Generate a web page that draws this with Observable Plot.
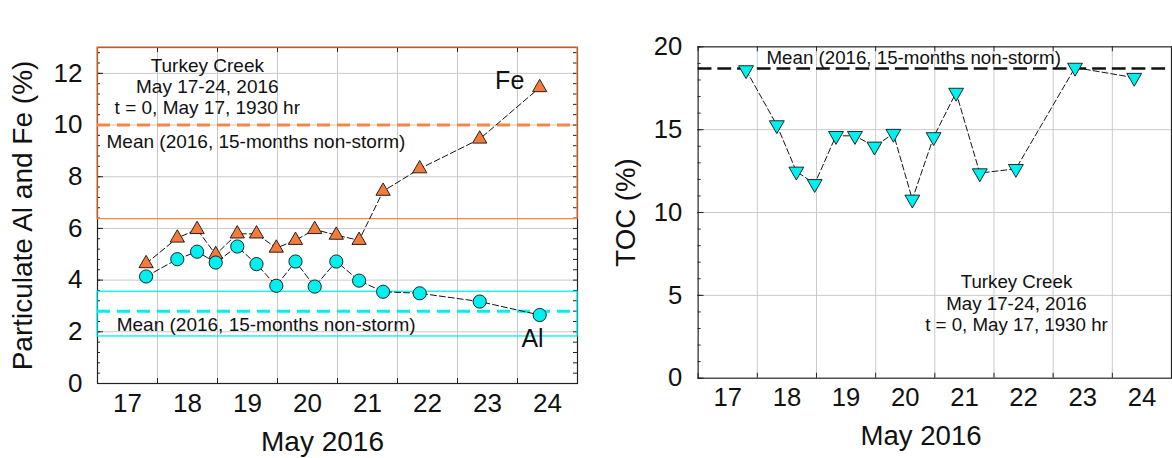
<!DOCTYPE html>
<html>
<head>
<meta charset="utf-8">
<script src="https://cdn.jsdelivr.net/npm/d3@7"></script>
<script src="https://cdn.jsdelivr.net/npm/@observablehq/plot@0.6"></script>
<style>
  html, body { margin: 0; padding: 0; background: #fff; overflow: hidden; }
  body { width: 1172px; height: 458px; position: relative; font-family: "Liberation Sans", Arial, sans-serif; }
  .panel { position: absolute; top: 0; }
  .tag { position: absolute; font-size: 20px; color: #111; }
</style>
</head>
<body>
<div class="tag" style="left:12px; top:8px;">(a)</div>
<div class="tag" style="left:614px; top:8px;">(b)</div>
<div id="pa" class="panel" style="left:0px;"></div>
<div id="pb" class="panel" style="left:600px;"></div>
<script>
// ---- data (day of May 2016, fractional) ----
const sampleDays = [17.81, 18.33, 18.66, 18.97, 19.33, 19.65, 19.98, 20.30, 20.62, 20.98, 21.36, 21.76, 22.37, 23.37, 24.37];
const feValues   = [4.64, 5.63, 5.96, 4.99, 5.79, 5.79, 5.24, 5.54, 5.96, 5.74, 5.54, 7.44, 8.31, 9.46, 11.45];
const alValues   = [4.14, 4.81, 5.10, 4.68, 5.30, 4.62, 3.78, 4.72, 3.75, 4.72, 3.98, 3.55, 3.49, 3.17, 2.65];
const tocValues  = [18.60, 15.28, 12.48, 11.73, 14.63, 14.63, 13.99, 14.76, 10.79, 14.56, 17.24, 12.38, 12.64, 18.75, 18.14];

// non-storm statistics (2016, 15 months)
const feMean = [10.0];
const feRange = [6.36, 13.0];
const alMean = [2.8];
const alRange = [1.82, 3.55];
const tocMean = [18.69];

// axes
const dayLabels = [17, 18, 19, 20, 21, 22, 23, 24];
const dayBounds = [17, 18, 19, 20, 21, 22, 23, 24, 25];
const yTicksA = [0, 2, 4, 6, 8, 10, 12];
const yMinorA = d3.range(0, 13.01, 0.4);
const yTicksB = [0, 5, 10, 15, 20];
const yMinorB = d3.range(0, 20.01, 1);

// annotations
const noteText = "Turkey Creek\nMay 17-24, 2016\nt = 0, May 17, 1930 hr";
const meanText = "Mean (2016, 15-months non-storm)";
const noteA = [{x: 18.83, y: 11.5}];
const meanLabelFe = [{x: 17.15, y: 9.34}];
const meanLabelAl = [{x: 17.32, y: 2.28}];
const feLabel = [{x: 23.87, y: 11.7, t: "Fe"}];
const alLabel = [{x: 24.25, y: 1.74, t: "Al"}];
const noteB = [{x: 22.38, y: 4.55}];
const meanLabelToc = [{x: 18.155, y: 19.35}];

const rows = sampleDays.map((d, i) => ({day: d, fe: feValues[i], al: alValues[i], toc: tocValues[i]}));

const ORANGE = "#F47B3B";
const ORANGE_LINE = "#F5864A";
const CYAN = "#00F0F0";
const GRID = "#c9c9c9";
const FONT = "'Liberation Sans', Arial, sans-serif";

const triangleDown = {
  draw(context, size) {
    const y = Math.sqrt(size / (Math.sqrt(3) * 3));
    context.moveTo(0, 2 * y);
    context.lineTo(Math.sqrt(3) * y, -y);
    context.lineTo(-Math.sqrt(3) * y, -y);
    context.closePath();
  }
};

// ---------- Panel (a) ----------
{
  const W = 590, H = 458, ML = 97, MR = 13, MT = 47, MB = 75;
  const PW = W - ML - MR, PH = H - MT - MB;
  const chart = Plot.plot({
    width: W, height: H,
    marginLeft: ML, marginRight: MR, marginTop: MT, marginBottom: MB,
    style: {fontFamily: FONT, color: "#111", background: "white", overflow: "visible"},
    x: {domain: [17, 25]},
    y: {domain: [0, 13]},
    marks: [
      Plot.gridX(dayBounds.slice(1, -1), {stroke: GRID, strokeOpacity: 1}),
      Plot.gridY(yTicksA.filter(d => d > 0), {stroke: GRID, strokeOpacity: 1}),
      Plot.frame({stroke: "#222", strokeWidth: 1.2}),
      // inward ticks
      Plot.tickX(dayBounds, {stroke: "#222", insetTop: PH - 5}),
      Plot.tickX(dayBounds, {stroke: "#222", insetBottom: PH - 5}),
      Plot.tickY(yMinorA, {stroke: "#222", insetRight: PW - 3}),
      Plot.tickY(yTicksA, {stroke: "#222", insetRight: PW - 6}),
      Plot.tickY(yMinorA, {stroke: "#222", insetLeft: PW - 4}),
      // non-storm ranges and means
      Plot.rect([{y1: feRange[0], y2: feRange[1]}], {x1: () => 17, x2: () => 25, y1: "y1", y2: "y2", fill: "none", stroke: ORANGE_LINE, strokeWidth: 1.3}),
      Plot.rect([{y1: alRange[0], y2: alRange[1]}], {x1: () => 17, x2: () => 25, y1: "y1", y2: "y2", fill: "none", stroke: CYAN, strokeWidth: 1.3}),
      Plot.ruleY(feMean, {stroke: ORANGE_LINE, strokeWidth: 3, strokeDasharray: "13,7"}),
      Plot.ruleY(alMean, {stroke: CYAN, strokeWidth: 3, strokeDasharray: "13,7"}),
      // series
      Plot.line(rows, {x: "day", y: "fe", stroke: "#111", strokeWidth: 1, strokeDasharray: "6,3"}),
      Plot.line(rows, {x: "day", y: "al", stroke: "#111", strokeWidth: 1, strokeDasharray: "6,3"}),
      Plot.dot(rows, {x: "day", y: "fe", symbol: "triangle", r: 5.3, fill: ORANGE, stroke: "#111", strokeWidth: 0.9}),
      Plot.dot(rows, {x: "day", y: "al", symbol: "circle", r: 6.6, fill: CYAN, stroke: "#111", strokeWidth: 0.9}),
      // axes
      Plot.axisX(dayLabels.map(d => d + 0.5), {tickSize: 0, tickPadding: 10, fontSize: 26, tickFormat: d => String(Math.floor(d)), label: null}),
      Plot.axisY(yTicksA, {tickSize: 0, tickPadding: 15, fontSize: 26, label: null}),
      Plot.text(["Particulate Al and Fe (%)"], {frameAnchor: "left", rotate: -90, dx: -74, fontSize: 28, lineAnchor: "middle", textAnchor: "middle", fill: "#111"}),
      Plot.text(["May 2016"], {frameAnchor: "bottom", dx: -15, dy: 59, fontSize: 28, lineAnchor: "middle", fill: "#111"}),
      // annotations
      Plot.text(noteA, {x: "x", y: "y", text: () => noteText, fontSize: 19, lineHeight: 1.1, lineAnchor: "middle", fill: "#111"}),
      Plot.text(meanLabelFe, {x: "x", y: "y", text: () => meanText, fontSize: 19, textAnchor: "start", fill: "#111"}),
      Plot.text(meanLabelAl, {x: "x", y: "y", text: () => meanText, fontSize: 19, textAnchor: "start", fill: "#111"}),
      Plot.text(feLabel, {x: "x", y: "y", text: "t", fontSize: 25, fill: "#111"}),
      Plot.text(alLabel, {x: "x", y: "y", text: "t", fontSize: 25, fill: "#111"})
    ]
  });
  document.getElementById("pa").append(chart);
}

// ---------- Panel (b) ----------
{
  const W = 580, H = 458, ML = 99, MR = 1, MT = 47, MB = 75;
  const PW = W - ML - MR, PH = H - MT - MB;
  const chart = Plot.plot({
    width: W, height: H,
    marginLeft: ML, marginRight: MR, marginTop: MT, marginBottom: MB,
    style: {fontFamily: FONT, color: "#111", background: "white", overflow: "visible"},
    x: {domain: [17, 25]},
    y: {domain: [0, 20]},
    marks: [
      Plot.gridX(dayBounds.slice(1, -1), {stroke: GRID, strokeOpacity: 1}),
      Plot.gridY(yTicksB.filter(d => d > 0 && d < 20), {stroke: GRID, strokeOpacity: 1}),
      Plot.frame({stroke: "#222", strokeWidth: 1.2}),
      Plot.tickX(dayBounds, {stroke: "#222", insetTop: PH - 5}),
      Plot.tickX(dayBounds, {stroke: "#222", insetBottom: PH - 5}),
      Plot.tickY(yMinorB, {stroke: "#222", insetRight: PW - 3}),
      Plot.tickY(yTicksB, {stroke: "#222", insetRight: PW - 6}),
      Plot.ruleY(tocMean, {stroke: "#111", strokeWidth: 2.6, strokeDasharray: "14,6"}),
      Plot.text(meanLabelToc, {x: "x", y: "y", text: () => meanText, fontSize: 19, textAnchor: "start", fill: "#111"}),
      Plot.line(rows, {x: "day", y: "toc", stroke: "#111", strokeWidth: 1, strokeDasharray: "6,3"}),
      Plot.dot(rows, {x: "day", y: "toc", symbol: triangleDown, r: 5.6, fill: CYAN, stroke: "#111", strokeWidth: 0.9}),
      Plot.axisX(dayLabels.map(d => d + 0.5), {tickSize: 0, tickPadding: 10, fontSize: 26, tickFormat: d => String(Math.floor(d)), label: null}),
      Plot.axisY(yTicksB, {tickSize: 0, tickPadding: 16, fontSize: 26, label: null}),
      Plot.text(["TOC (%)"], {frameAnchor: "left", rotate: -90, dx: -73, fontSize: 28, lineAnchor: "middle", textAnchor: "middle", fill: "#111"}),
      Plot.text(["May 2016"], {frameAnchor: "bottom", dx: -14, dy: 59, fontSize: 28, lineAnchor: "middle", fill: "#111"}),
      Plot.text(noteB, {x: "x", y: "y", text: () => noteText, fontSize: 19, lineHeight: 1.13, lineAnchor: "middle", fill: "#111"})
    ]
  });
  document.getElementById("pb").append(chart);
}
</script>
</body>
</html>
